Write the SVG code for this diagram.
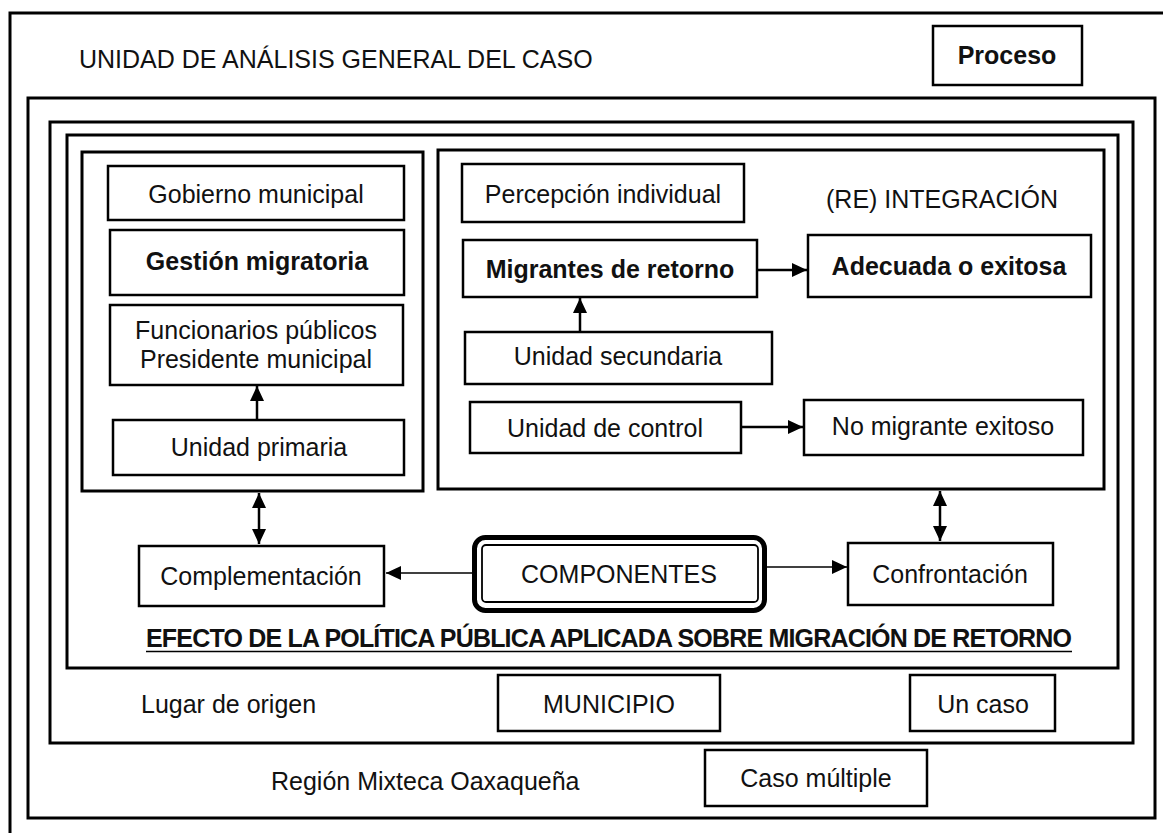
<svg xmlns="http://www.w3.org/2000/svg" width="1163" height="833" viewBox="0 0 1163 833">
<style>
text{font-family:"Liberation Sans",Arial,sans-serif;font-size:25px;fill:#111}
.c{text-anchor:middle}
.b{font-weight:bold}
.frame{fill:none;stroke:#000;stroke-width:3}
.box{fill:#fff;stroke:#000;stroke-width:2.5}
.conn{fill:none;stroke:#000;stroke-width:2.5}
.thin{fill:none;stroke:#000;stroke-width:1.5}
</style>
<defs>
<marker id="ah" markerUnits="userSpaceOnUse" markerWidth="16" markerHeight="16" viewBox="0 0 16 16" refX="15" refY="8" orient="auto-start-reverse">
<path d="M0,1 L15,8 L0,15 Z" fill="#000"/>
</marker>
</defs>
<rect width="1163" height="833" fill="#fff"/>
<g id="frames">
<rect class="frame" x="10" y="13" width="1170" height="840"/>
<rect class="frame" x="28" y="98" width="1127" height="720"/>
<rect class="frame" x="50" y="122" width="1083" height="621"/>
<rect class="frame" x="67" y="135" width="1051" height="533"/>
<rect class="frame" x="82" y="152" width="341" height="339"/>
<rect class="frame" x="438" y="150" width="666" height="339"/>
</g>
<g id="titulo"><text x="79" y="68">UNIDAD DE ANÁLISIS GENERAL DEL CASO</text></g>
<g id="proceso"><rect class="box" x="933" y="26" width="149" height="59"/><text class="c b" x="1007" y="64">Proceso</text></g>
<g id="gobierno"><rect class="box" x="108" y="166" width="296" height="54"/><text class="c" x="256" y="203">Gobierno municipal</text></g>
<g id="gestion"><rect class="box" x="110" y="230" width="294" height="65"/><text class="c b" x="257" y="270">Gestión migratoria</text></g>
<g id="funcionarios"><rect class="box" x="110" y="305" width="293" height="80"/><text class="c" x="256" y="339">Funcionarios públicos</text><text class="c" x="256" y="368">Presidente municipal</text></g>
<g id="primaria"><rect class="box" x="113" y="420" width="291" height="55" stroke-width="3"/><text class="c" x="259" y="456">Unidad primaria</text></g>
<g id="percepcion"><rect class="box" x="462" y="164" width="282" height="58"/><text class="c" x="603" y="203">Percepción individual</text></g>
<g id="reintegracion"><text x="826" y="208">(RE) INTEGRACIÓN</text></g>
<g id="migrantes"><rect class="box" x="463" y="240" width="294" height="57"/><text class="c b" x="610" y="278">Migrantes de retorno</text></g>
<g id="adecuada"><rect class="box" x="808" y="235" width="283" height="62"/><text class="c b" x="949" y="275">Adecuada o exitosa</text></g>
<g id="secundaria"><rect class="box" x="465" y="332" width="307" height="52"/><text class="c" x="618" y="365">Unidad secundaria</text></g>
<g id="control"><rect class="box" x="470" y="402" width="271" height="51" stroke-width="3"/><text class="c" x="605" y="437">Unidad de control</text></g>
<g id="nomigrante"><rect class="box" x="804" y="400" width="279" height="55"/><text class="c" x="943" y="435">No migrante exitoso</text></g>
<g id="complementacion"><rect class="box" x="139" y="546" width="245" height="60"/><text class="c" x="261" y="585">Complementación</text></g>
<g id="componentes"><rect x="474.5" y="537.5" width="290" height="73" rx="11" fill="#fff" stroke="#000" stroke-width="5"/><rect x="482" y="545" width="276" height="57" rx="4" fill="none" stroke="#000" stroke-width="1.8"/><text class="c" x="619" y="583">COMPONENTES</text></g>
<g id="confrontacion"><rect class="box" x="848" y="543" width="205" height="62"/><text class="c" x="950" y="583">Confrontación</text></g>
<g id="efecto"><text class="b" x="146" y="647" font-size="22" textLength="926" lengthAdjust="spacing">EFECTO DE LA POLÍTICA PÚBLICA APLICADA SOBRE MIGRACIÓN DE RETORNO</text><line x1="146" y1="651.5" x2="1072" y2="651.5" stroke="#000" stroke-width="1.6"/></g>
<g id="lugar"><text x="141" y="713">Lugar de origen</text></g>
<g id="municipio"><rect class="box" x="498" y="675" width="222" height="56"/><text class="c" x="609" y="713">MUNICIPIO</text></g>
<g id="uncaso"><rect class="box" x="910" y="675" width="145" height="56"/><text class="c" x="983" y="713">Un caso</text></g>
<g id="region"><text x="271" y="790">Región Mixteca Oaxaqueña</text></g>
<g id="casomultiple"><rect class="box" x="705" y="750" width="222" height="56"/><text class="c" x="816" y="787">Caso múltiple</text></g>
<g id="connectors">
<path class="conn" d="M257,420 V386" marker-end="url(#ah)"/>
<path class="conn" d="M259,493 V544" marker-start="url(#ah)" marker-end="url(#ah)"/>
<path class="conn" d="M580,332 V298" marker-end="url(#ah)"/>
<path class="conn" d="M757,270 H807" marker-end="url(#ah)"/>
<path class="conn" d="M741,427 H803" marker-end="url(#ah)"/>
<path class="conn" d="M940,491 V541" marker-start="url(#ah)" marker-end="url(#ah)"/>
<path class="thin" d="M472,573 H386" marker-end="url(#ah)"/>
<path class="thin" d="M767,567 H847" marker-end="url(#ah)"/>
</g>
</svg>
